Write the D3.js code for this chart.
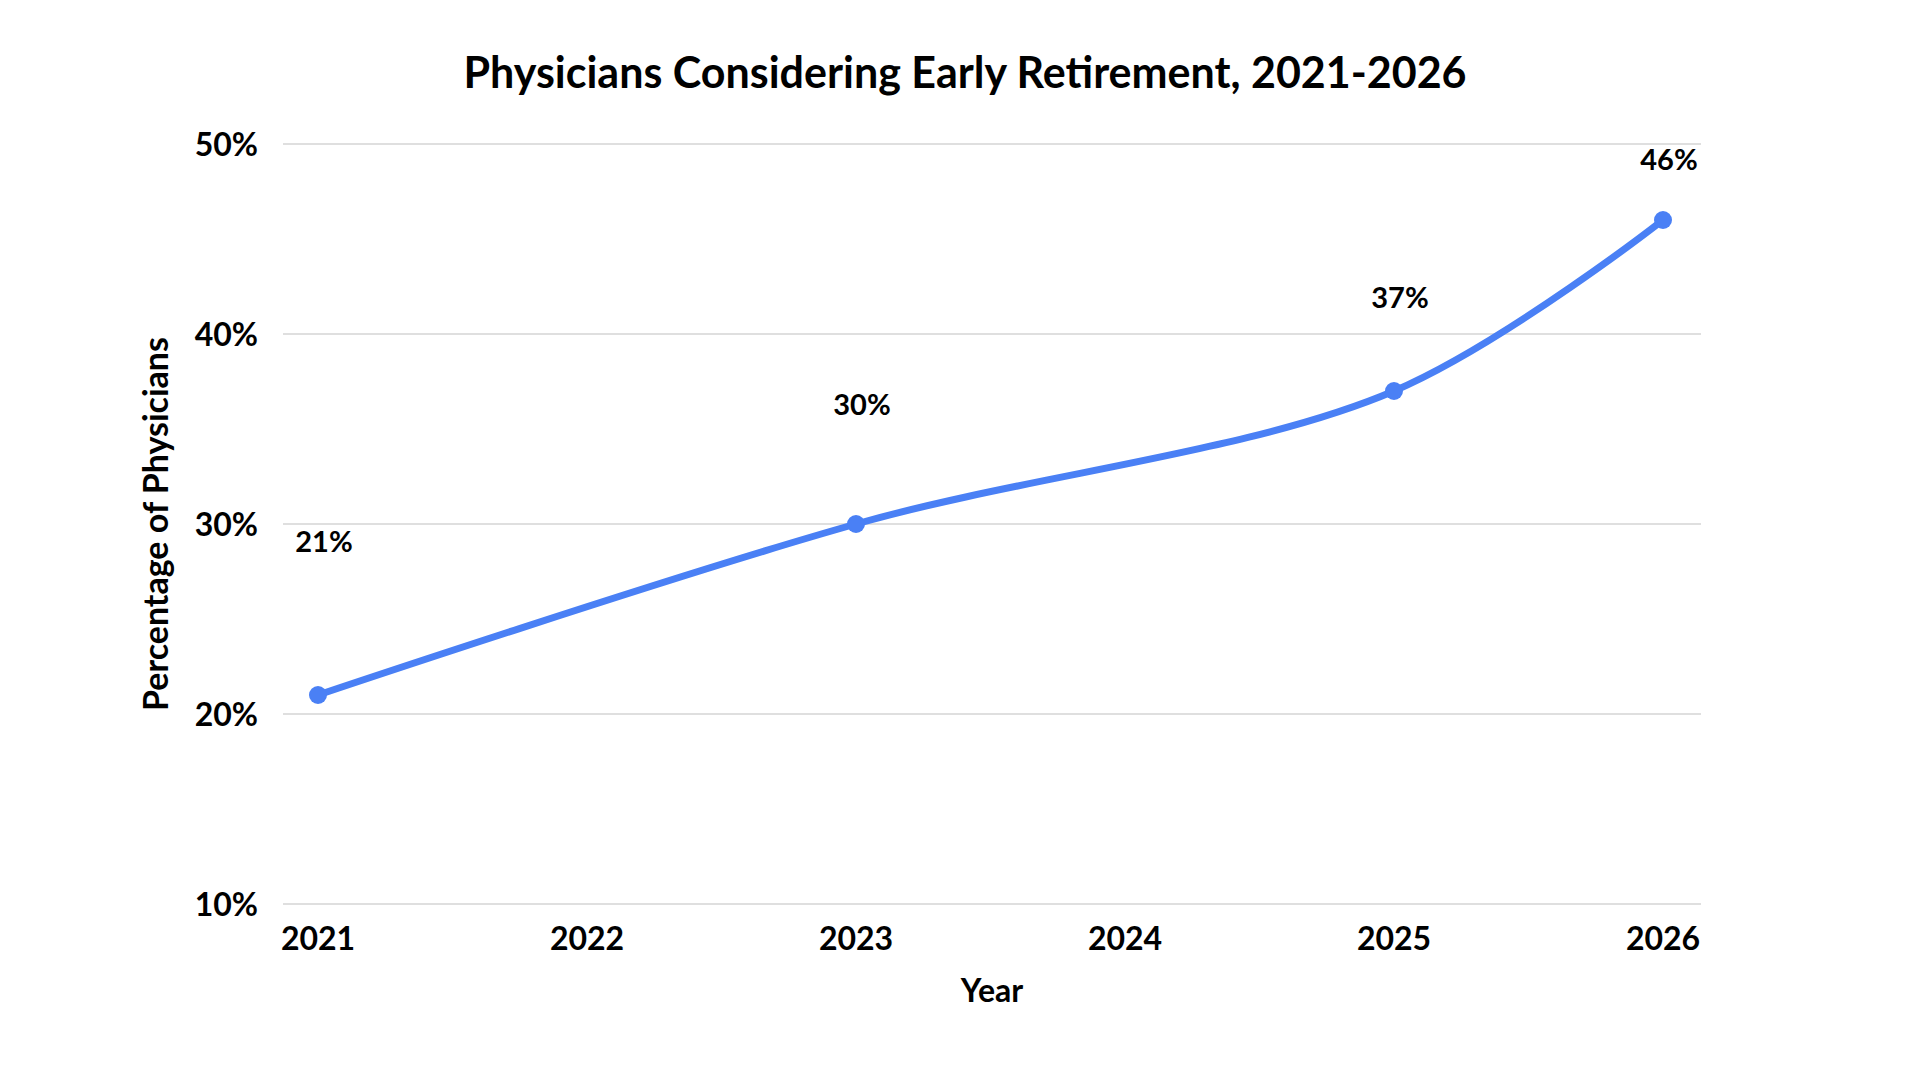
<!DOCTYPE html>
<html>
<head>
<meta charset="utf-8">
<script src="https://cdn.jsdelivr.net/npm/d3@7"></script>
<style>
  body { margin: 0; background: #fff; }
  text { font-family: Lato, "Open Sans", sans-serif; fill: #000; }
</style>
</head>
<body>
<svg width="1920" height="1080"></svg>
<script>
var years = [2021, 2022, 2023, 2024, 2025, 2026];
var pointYears = [2021, 2023, 2025, 2026];
var pointValues = [21, 30, 37, 46];
var yTicks = [10, 20, 30, 40, 50];

var svg = d3.select("svg");
svg.append("rect").attr("width", 1920).attr("height", 1080).attr("fill", "#fff");

var x = d3.scalePoint().domain(years).range([318, 1663]);
var y = d3.scaleLinear().domain([10, 50]).range([904, 144]);
// data labels sit above the points, drifting closer as values grow
var labelY = d3.scaleLinear().domain([10, 50]).range([720, 109]);

var gridLeft = 283, gridRight = 1701;

svg.append("text")
    .attr("x", 965).attr("y", 88)
    .attr("text-anchor", "middle")
    .attr("font-size", 43).attr("font-weight", 700)
    .text("Physicians Considering Early Retirement, 2021-2026");

// gridlines
svg.append("g").selectAll("line")
    .data(yTicks)
    .enter()
    .append("line")
    .attr("x1", gridLeft).attr("x2", gridRight)
    .attr("y1", d => y(d)).attr("y2", d => y(d))
    .attr("stroke", "#d4d4d4")
    .attr("stroke-width", 1.5);

// y tick labels
svg.append("g").selectAll("text")
    .data(yTicks)
    .enter()
    .append("text")
    .attr("x", 258)
    .attr("y", d => y(d) + 12)
    .attr("text-anchor", "end")
    .attr("font-size", 32).attr("font-weight", 700)
    .text(d => d + "%");

// x tick labels
svg.append("g").selectAll("text")
    .data(years)
    .enter()
    .append("text")
    .attr("x", d => x(d))
    .attr("y", 950)
    .attr("text-anchor", "middle")
    .attr("font-size", 32).attr("font-weight", 700)
    .text(d => d);

svg.append("text")
    .attr("x", (gridLeft + gridRight) / 2).attr("y", 1002)
    .attr("text-anchor", "middle")
    .attr("font-size", 32).attr("font-weight", 700)
    .text("Year");

svg.append("text")
    .attr("transform", "translate(168,524) rotate(-90)")
    .attr("text-anchor", "middle")
    .attr("font-size", 34).attr("font-weight", 700)
    .text("Percentage of Physicians");

var points = pointYears.map((yr, i) => [yr, pointValues[i]]);

var line = d3.line()
    .x(d => x(d[0]))
    .y(d => y(d[1]))
    .curve(d3.curveCatmullRom);

svg.append("path")
    .datum(points)
    .attr("d", line)
    .attr("fill", "none")
    .attr("stroke", "#4a80f5")
    .attr("stroke-width", 7)
    .attr("stroke-linecap", "round");

svg.append("g").selectAll("circle")
    .data(points)
    .enter()
    .append("circle")
    .attr("cx", d => x(d[0]))
    .attr("cy", d => y(d[1]))
    .attr("r", 9)
    .attr("fill", "#4a80f5");

svg.append("g").selectAll("text")
    .data(points)
    .enter()
    .append("text")
    .attr("x", d => x(d[0]) + 6)
    .attr("y", d => labelY(d[1]))
    .attr("text-anchor", "middle")
    .attr("font-size", 29).attr("font-weight", 700)
    .text(d => d[1] + "%");
</script>
</body>
</html>
